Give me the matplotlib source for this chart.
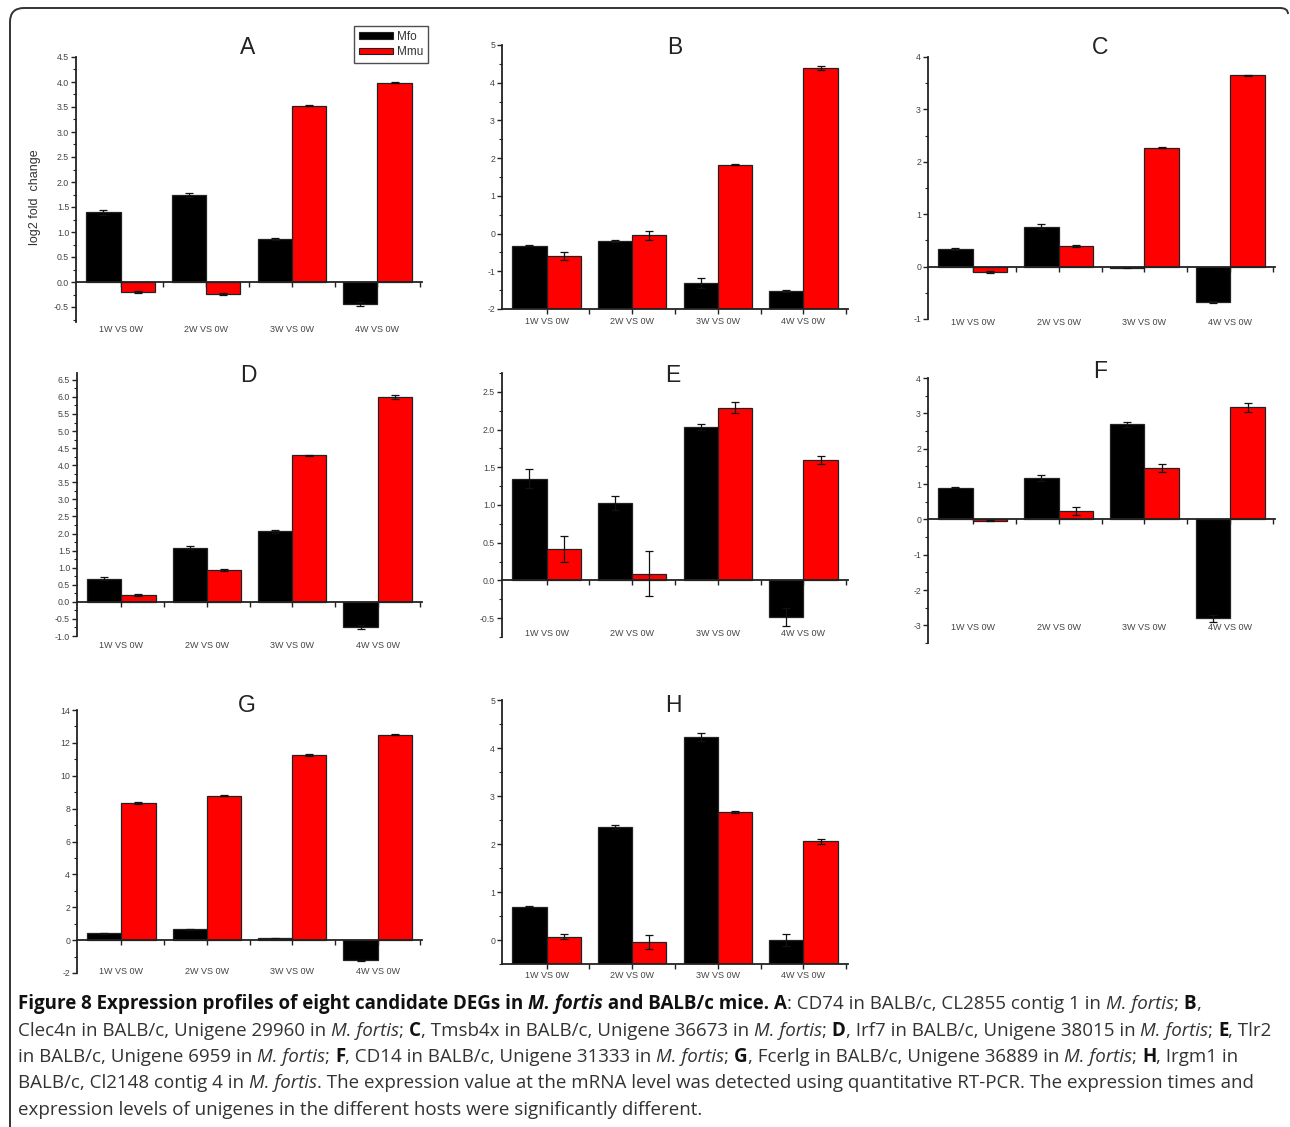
import matplotlib
matplotlib.use("Agg")
import matplotlib.pyplot as plt
import matplotlib.transforms as mtransforms
from matplotlib.patches import Rectangle, PathPatch
from matplotlib.path import Path
from matplotlib.ticker import MultipleLocator, FormatStrFormatter
from matplotlib import font_manager

# ---------------- data ----------------
categories = ["1W VS 0W", "2W VS 0W", "3W VS 0W", "4W VS 0W"]
series_names = ["Mfo", "Mmu"]
panel_letters = ["A", "B", "C", "D", "E", "F", "G", "H"]

A_mfo = [1.40, 1.74, 0.86, -0.44]
A_mfo_err = [0.05, 0.04, 0.02, 0.04]
A_mmu = [-0.20, -0.24, 3.52, 3.98]
A_mmu_err = [0.02, 0.02, 0.01, 0.01]

B_mfo = [-0.32, -0.19, -1.31, -1.52]
B_mfo_err = [0.02, 0.03, 0.12, 0.02]
B_mmu = [-0.60, -0.05, 1.83, 4.38]
B_mmu_err = [0.10, 0.13, 0.02, 0.05]

C_mfo = [0.34, 0.76, -0.02, -0.68]
C_mfo_err = [0.02, 0.05, 0.01, 0.02]
C_mmu = [-0.11, 0.40, 2.27, 3.65]
C_mmu_err = [0.02, 0.02, 0.01, 0.01]

D_mfo = [0.68, 1.59, 2.06, -0.74]
D_mfo_err = [0.04, 0.05, 0.05, 0.06]
D_mmu = [0.20, 0.94, 4.29, 6.00]
D_mmu_err = [0.02, 0.03, 0.01, 0.05]

E_mfo = [1.35, 1.03, 2.04, -0.48]
E_mfo_err = [0.13, 0.09, 0.04, 0.12]
E_mmu = [0.42, 0.09, 2.29, 1.60]
E_mmu_err = [0.17, 0.30, 0.07, 0.05]

F_mfo = [0.90, 1.17, 2.69, -2.80]
F_mfo_err = [0.02, 0.08, 0.07, 0.10]
F_mmu = [-0.04, 0.23, 1.46, 3.17]
F_mmu_err = [0.02, 0.12, 0.11, 0.12]

G_mfo = [0.42, 0.66, 0.10, -1.22]
G_mfo_err = [0.04, 0.04, 0.02, 0.03]
G_mmu = [8.36, 8.78, 11.27, 12.50]
G_mmu_err = [0.06, 0.04, 0.05, 0.03]

H_mfo = [0.69, 2.35, 4.23, 0.00]
H_mfo_err = [0.01, 0.04, 0.08, 0.12]
H_mmu = [0.07, -0.04, 2.66, 2.06]
H_mmu_err = [0.05, 0.14, 0.02, 0.05]

y_ticklabel_fmt = ["%.1f", "%d", "%d", "%.1f", "%.1f", "%d", "%d", "%d"]

caption_lines = [
    [("Figure 8 Expression profiles of eight candidate DEGs in ", "bold", "normal"),
     ("M. fortis", "bold", "italic"),
     (" and BALB/c mice. ", "bold", "normal"),
     ("A", "bold", "normal"),
     (": CD74 in BALB/c, CL2855 contig 1 in ", "normal", "normal"),
     ("M. fortis", "normal", "italic"),
     ("; ", "normal", "normal"), ("B", "bold", "normal"), (",", "normal", "normal")],
    [("Clec4n in BALB/c, Unigene 29960 in ", "normal", "normal"),
     ("M. fortis", "normal", "italic"), ("; ", "normal", "normal"),
     ("C", "bold", "normal"),
     (", Tmsb4x in BALB/c, Unigene 36673 in ", "normal", "normal"),
     ("M. fortis", "normal", "italic"), ("; ", "normal", "normal"),
     ("D", "bold", "normal"),
     (", Irf7 in BALB/c, Unigene 38015 in ", "normal", "normal"),
     ("M. fortis", "normal", "italic"), ("; ", "normal", "normal"),
     ("E", "bold", "normal"), (", Tlr2", "normal", "normal")],
    [("in BALB/c, Unigene 6959 in ", "normal", "normal"),
     ("M. fortis", "normal", "italic"), ("; ", "normal", "normal"),
     ("F", "bold", "normal"),
     (", CD14 in BALB/c, Unigene 31333 in ", "normal", "normal"),
     ("M. fortis", "normal", "italic"), ("; ", "normal", "normal"),
     ("G", "bold", "normal"),
     (", Fcerlg in BALB/c, Unigene 36889 in ", "normal", "normal"),
     ("M. fortis", "normal", "italic"), ("; ", "normal", "normal"),
     ("H", "bold", "normal"), (", Irgm1 in", "normal", "normal")],
    [("BALB/c, Cl2148 contig 4 in ", "normal", "normal"),
     ("M. fortis", "normal", "italic"),
     (". The expression value at the mRNA level was detected using quantitative RT-PCR. The expression times and",
      "normal", "normal")],
    [("expression levels of unigenes in the different hosts were significantly different.",
      "normal", "normal")],
]

panels = [
    (A_mfo, A_mfo_err, A_mmu, A_mmu_err),
    (B_mfo, B_mfo_err, B_mmu, B_mmu_err),
    (C_mfo, C_mfo_err, C_mmu, C_mmu_err),
    (D_mfo, D_mfo_err, D_mmu, D_mmu_err),
    (E_mfo, E_mfo_err, E_mmu, E_mmu_err),
    (F_mfo, F_mfo_err, F_mmu, F_mmu_err),
    (G_mfo, G_mfo_err, G_mmu, G_mmu_err),
    (H_mfo, H_mfo_err, H_mmu, H_mmu_err),
]

# ---------------- layout (pixels) ----------------
W, H = 1290, 1127
layout = [
    (76, 422, 57, 322, (-0.8, 4.5), 0.5, 0.25, True, 330, (248, 47)),
    (502, 848, 45, 309, (-2, 5), 1, 0.5, False, 321, (675, 47)),
    (928, 1275, 57, 319, (-1, 4), 1, 0.5, True, 323, (1100, 47)),
    (77, 422, 373, 636, (-1.0, 6.7), 0.5, 0.25, True, 645, (248, 375)),
    (502, 848, 373, 637, (-0.75, 2.75), 0.5, 0.25, True, 634, (673, 375)),
    (928, 1275, 378, 643, (-3.5, 4), 1, 0.5, True, 628, (1100, 372)),
    (77, 422, 710, 973, (-2, 14), 2, 1, True, 972, (247, 705)),
    (502, 848, 700, 964, (-0.5, 5), 1, 0.5, False, 975, (673, 705)),
]

plt.rcParams['font.family'] = ['Liberation Sans', 'DejaVu Sans']
fig = plt.figure(figsize=(W / 100, H / 100), dpi=100)
fig.patch.set_facecolor("white")

BLACK = "#000000"
RED = "#ff0000"
EDGE = "#222222"
x = [1, 2, 3, 4]
bw = 0.4

for k, (lay, dat, letter, fmt) in enumerate(zip(layout, panels, panel_letters, y_ticklabel_fmt)):
    l, r, t, b, ylim, maj, mnr, at_zero, laby, (tx, ty) = lay
    mfo, mfo_e, mmu, mmu_e = dat
    ax = fig.add_axes([l / W, 1 - b / H, (r - l) / W, (b - t) / H])
    ax.set_xlim(0.48, 4.52)
    ax.set_ylim(*ylim)
    base = 0 if at_zero else ylim[0]
    xs_f = [xi - bw / 2 for xi in x]
    xs_m = [xi + bw / 2 for xi in x]
    ax.bar(xs_f, [v - base for v in mfo], bw, bottom=base, color=BLACK,
           edgecolor=EDGE, linewidth=0.9, zorder=2)
    ax.bar(xs_m, [v - base for v in mmu], bw, bottom=base, color=RED,
           edgecolor=EDGE, linewidth=0.9, zorder=2)
    ax.errorbar(xs_f, mfo, yerr=mfo_e, fmt="none", ecolor="#111111",
                elinewidth=0.9, capsize=2.8, capthick=0.9, zorder=3)
    ax.errorbar(xs_m, mmu, yerr=mmu_e, fmt="none", ecolor="#111111",
                elinewidth=0.9, capsize=2.8, capthick=0.9, zorder=3)

    for s in ["top", "right"]:
        ax.spines[s].set_visible(False)
    ax.spines["left"].set_color(EDGE)
    ax.spines["left"].set_linewidth(1.3)
    ax.spines["bottom"].set_color(EDGE)
    ax.spines["bottom"].set_linewidth(1.3)
    if at_zero:
        ax.spines["bottom"].set_position(("data", 0))
    ax.spines["bottom"].set_zorder(4)

    ax.yaxis.set_major_locator(MultipleLocator(maj))
    ax.yaxis.set_minor_locator(MultipleLocator(mnr))
    ax.yaxis.set_major_formatter(FormatStrFormatter(fmt))
    ax.tick_params(axis="y", which="major", direction="out", length=3.5, width=1,
                   color=EDGE, labelsize=6.3, labelcolor="#444444", pad=1.5)
    ax.tick_params(axis="y", which="minor", direction="out", length=2, width=0.8, color=EDGE)
    ax.set_xticks([1, 1.5, 2, 2.5, 3, 3.5, 4, 4.5])
    ax.set_xticklabels([])
    ax.tick_params(axis="x", which="major", direction="out", length=3.5, width=1, color=EDGE)
    ax.set_facecolor("none")

    trans = mtransforms.blended_transform_factory(ax.transData, fig.transFigure)
    for xi, lab in zip(x, categories):
        ax.text(xi, 1 - laby / H, lab, transform=trans, ha="center", va="center",
                fontsize=6.5, color="#444444")
    fig.text(tx / W, 1 - ty / H, letter, ha="center", va="center",
             fontsize=16.5, color="#222222")
    if k == 0:
        fig.text(35 / W, 1 - 197 / H, "log2 fold  change", rotation=90,
                 ha="center", va="center", fontsize=9, color="#333333")

# legend in panel A
handles = [Rectangle((0, 0), 1, 1, facecolor=BLACK, edgecolor=EDGE, linewidth=0.8),
           Rectangle((0, 0), 1, 1, facecolor=RED, edgecolor=EDGE, linewidth=0.8)]
leg = fig.legend(handles, series_names, loc="upper left",
                 bbox_to_anchor=(354 / W, 1 - 26 / H), fontsize=8.5,
                 handlelength=2.9, handleheight=0.5, handletextpad=0.35,
                 borderpad=0.4, labelspacing=0.3, borderaxespad=0,
                 fancybox=False, frameon=True)
leg.get_frame().set_edgecolor("#222222")
leg.get_frame().set_linewidth(1.0)
for txt in leg.get_texts():
    txt.set_color("#333333")

# ---------------- outer border ----------------
to_fig = mtransforms.Affine2D().scale(1 / W, -1 / H).translate(0, 1) + fig.transFigure
verts = [(10, 1127), (10, 22), (10, 8), (24, 8), (1280, 8), (1288, 8), (1288, 14)]
codes = [Path.MOVETO, Path.LINETO, Path.CURVE3, Path.CURVE3, Path.LINETO, Path.CURVE3, Path.CURVE3]
fig.patches.append(PathPatch(Path(verts, codes), transform=to_fig, facecolor="none",
                             edgecolor="#333333", linewidth=1.4))

# ---------------- caption ----------------
def available(name):
    try:
        font_manager.findfont(font_manager.FontProperties(family=name), fallback_to_default=False)
        return True
    except Exception:
        return False

reg_family = "Open Sans" if available("Open Sans") else "DejaVu Sans"
bold_family = "Liberation Sans Narrow" if available("Liberation Sans Narrow") else reg_family

renderer = fig.canvas.get_renderer()

def seg_width(text, size, weight, style):
    fam = bold_family if (weight == "bold" and len(text) > 3) else reg_family
    t1 = fig.text(0, 0, text + "|", fontsize=size, weight=weight, style=style, family=fam)
    t2 = fig.text(0, 0, "|", fontsize=size, weight=weight, style=style, family=fam)
    w = t1.get_window_extent(renderer).width - t2.get_window_extent(renderer).width
    t1.remove(); t2.remove()
    return w

def line_width(segs, size):
    return sum(seg_width(s, size, w, st) for s, w, st in segs)

base_size = 12.0
w2 = line_width(caption_lines[1], base_size)
cap_size = base_size * (1268 - 18) / w2

baselines = [1009, 1035.5, 1062, 1088.5, 1115]
for segs, yb in zip(caption_lines, baselines):
    xp = 18
    for s, wgt, st in segs:
        fam = bold_family if (wgt == "bold" and len(s) > 3) else reg_family
        col = "#111111" if wgt == "bold" else "#333333"
        fig.text(xp / W, 1 - yb / H, s, fontsize=cap_size, weight=wgt, style=st,
                 family=fam, ha="left", va="baseline", color=col)
        xp += seg_width(s, cap_size, wgt, st)

fig.savefig("out.png", dpi=100, facecolor="white")
